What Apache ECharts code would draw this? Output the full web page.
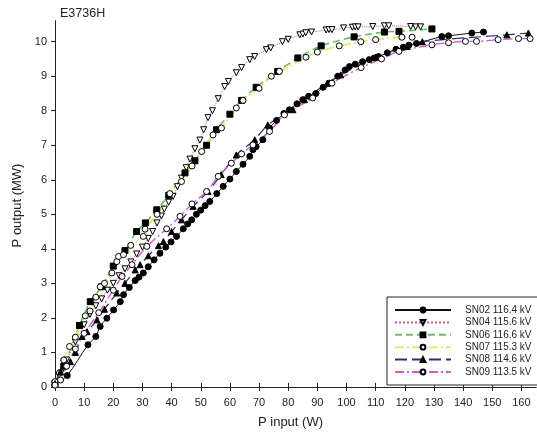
<!DOCTYPE html>
<html>
<head>
<meta charset="utf-8">
<script src="https://cdn.jsdelivr.net/npm/echarts@6/dist/echarts.min.js"></script>
<style>
html,body{margin:0;padding:0;background:#fff;}
#chart{width:537px;height:435px;}
</style>
</head>
<body>
<div id="chart"></div>
<script>
// ---- data (P input W, P output MW) ----
const seriesNames = ["SN02 116.4 kV","SN04 115.6 kV","SN06 116.6 kV","SN07 115.3 kV","SN08 114.6 kV","SN09 113.5 kV"];
const xTicks = [0,10,20,30,40,50,60,70,80,90,100,110,120,130,140,150,160];
const yTicks = [0,1,2,3,4,5,6,7,8,9,10];

const sn02 = [[0,0.06],[4.2,0.33],[11.3,1.22],[14,1.46],[15.5,1.75],[17.8,1.99],[20.1,2.23],[22.4,2.47],[23.5,2.67],[25.5,2.88],[27.5,3.08],[28.8,3.18],[30.3,3.3],[32,3.48],[34,3.68],[36,3.87],[38,4.05],[39.8,4.2],[41.7,4.36],[44,4.58],[45.5,4.72],[46.9,4.84],[48.5,5.0],[50,5.12],[51.5,5.25],[53.1,5.37],[55.5,5.6],[57.7,5.81],[60,6.02],[62.2,6.24],[64.5,6.45],[66.8,6.68],[67.9,6.87],[69,6.96],[71.3,7.16],[73.6,7.5],[76,7.72],[78.5,7.92],[80.4,8.03],[83,8.2],[85,8.32],[87,8.42],[89.5,8.5],[92,8.68],[94.1,8.8],[97,9.0],[99.5,9.18],[101,9.28],[103,9.35],[105.5,9.42],[107.8,9.48],[109.5,9.53],[111,9.57],[114,9.68],[117,9.78],[119.5,9.84],[121.4,9.9],[124,9.95],[132.7,10.15],[135,10.17],[143,10.25],[147,10.28]];

const sn04 = [[0,0.1],[2,0.4],[4,0.78],[7,1.3],[10,1.8],[12,2.1],[14,2.35],[16,2.55],[18,2.8],[20,3.0],[22,3.22],[24,3.42],[26,3.62],[28,3.85],[30,4.05],[32,4.3],[33.5,4.5],[35,4.75],[36.5,4.95],[37.5,5.15],[39,5.35],[40.5,5.52],[42,5.8],[43.4,6.05],[45,6.35],[46.3,6.6],[48,6.9],[49.7,7.15],[51,7.45],[52.5,7.8],[54,8.0],[56,8.35],[58.2,8.7],[59.5,8.85],[62.2,9.1],[64,9.25],[66.8,9.48],[68.5,9.57],[72.5,9.77],[74,9.82],[78,10.0],[80,10.07],[84,10.2],[85,10.22],[86,10.26],[88,10.28],[93,10.34],[94,10.35],[95,10.35],[99,10.4],[102,10.42],[103,10.43],[104,10.43],[109,10.44],[113,10.46],[114.5,10.46],[122,10.44],[123.7,10.43],[125.4,10.43]];

const sn06 = [[0,0.1],[3,0.6],[8.4,1.78],[12.1,2.47],[16,2.9],[20,3.5],[24,3.95],[28,4.5],[31,4.75],[34.9,5.13],[39,5.55],[44.6,6.2],[48,6.55],[52,7.0],[55.4,7.45],[60,7.9],[64,8.3],[69,8.68],[76.4,9.14],[83.3,9.53],[91.3,9.88],[102.6,10.14],[113,10.28],[118,10.3],[129.3,10.37]];

const sn07 = [[0,0.15],[1.5,0.4],[3,0.78],[5,1.17],[7,1.44],[10.4,2.06],[12,2.2],[14,2.6],[15.5,2.9],[17,3.0],[19.5,3.3],[21.2,3.63],[21.8,3.78],[23.5,3.83],[26,4.1],[30.3,4.36],[30.9,4.57],[35,5.0],[39.4,5.6],[43.4,5.95],[47,6.4],[50.3,6.82],[54.2,7.3],[57.1,7.5],[62.2,8.08],[64.5,8.3],[70,8.65],[74.2,9.0],[77,9.14],[86.1,9.55],[90,9.7],[97.5,9.88],[104.9,10.0],[110,10.06],[119,10.13],[122.5,10.13]];

const sn08 = [[0,0.1],[1.9,0.44],[5.3,0.73],[7,1.0],[9.3,1.46],[11,1.6],[14.4,1.94],[17,2.25],[21.2,2.72],[24,3.0],[27.5,3.39],[29.2,3.54],[32,3.8],[35.5,4.09],[37.2,4.21],[40,4.5],[43.4,4.84],[47.4,5.23],[52.5,5.66],[57,6.15],[62.2,6.72],[68.5,7.16],[73,7.59],[81.6,8.03],[85.6,8.32],[93.4,8.8],[98,9.04],[110,9.55],[120.8,9.86],[126,10.0],[155,10.2],[162.4,10.25]];

const sn09 = [[0,0.05],[1.9,0.2],[4,0.6],[7,1.1],[10,1.55],[15,2.15],[20,2.8],[23,3.2],[26.4,3.54],[31.5,4.07],[38.3,4.58],[42.9,4.94],[47,5.3],[52,5.66],[56,6.1],[60.5,6.48],[64,6.75],[67.9,7.01],[73.6,7.4],[78.7,7.88],[88.4,8.37],[95,8.8],[105,9.25],[112,9.5],[118,9.72],[129.3,9.91],[135,9.97],[140.8,10.01],[144.6,10.01],[152,10.06],[159,10.09],[163,10.09]];

// ---- styling ----
const FONT = "Liberation Sans, Arial, sans-serif";
function mk(name, data, color, type, width, symbol, filled, rotate) {
  return {
    name: name, type: 'line', data: data, smooth: 0.3,
    xAxisIndex: 0, yAxisIndex: 0,
    symbol: symbol, symbolSize: 6, symbolRotate: rotate || 0,
    showAllSymbol: true,
    lineStyle: { color: color, width: width, type: type },
    itemStyle: { color: filled ? '#000' : '#fff', borderColor: '#000', borderWidth: 1 },
    emphasis: { disabled: true },
    animation: false
  };
}

const chart = echarts.init(document.getElementById('chart'), null, { renderer: 'canvas' });
chart.setOption({
  backgroundColor: '#fff',
  animation: false,
  title: {
    text: 'E3736H', left: 55, top: 2,
    textStyle: { fontFamily: FONT, fontSize: 12.5, fontWeight: 'normal', color: '#222' }
  },
  grid: { left: 55, right: 1, top: 21, bottom: 45 },
  legend: {
    orient: 'vertical', left: 387, top: 297,
    padding: [8, 40, 8, 7],
    itemWidth: 56, itemHeight: 6, itemGap: 2.4,
    backgroundColor: '#fff', borderColor: '#222', borderWidth: 1,
    textStyle: { fontFamily: FONT, fontSize: 10, lineHeight: 10, color: '#222', padding: [0, 0, 0, 9] },
    data: seriesNames
  },
  xAxis: [{
    type: 'value', min: 0, max: 165, position: 'bottom',
    name: 'P input (W)', nameLocation: 'middle', nameGap: 26,
    nameTextStyle: { fontFamily: FONT, fontSize: 13, color: '#222', padding: [0, 10, 0, 0] },
    axisLine: { lineStyle: { color: '#222', width: 1 } },
    axisTick: { inside: true, length: 4, customValues: xTicks, lineStyle: { color: '#222' } },
    axisLabel: { customValues: xTicks, margin: 7, fontFamily: FONT, fontSize: 11, color: '#222' },
    splitLine: { show: false }
  }, {
    type: 'value', min: 0, max: 165, position: 'top',
    axisLine: { lineStyle: { color: '#222', width: 1 } },
    axisTick: { inside: true, length: 4, customValues: xTicks, lineStyle: { color: '#222' } },
    axisLabel: { show: false },
    splitLine: { show: false }
  }],
  yAxis: [{
    type: 'value', min: -0.09, max: 10.6, position: 'left',
    name: 'P output (MW)', nameLocation: 'middle', nameGap: 24, nameRotate: 90,
    nameTextStyle: { fontFamily: FONT, fontSize: 13, color: '#222' },
    axisLine: { show: true, lineStyle: { color: '#222', width: 1 } },
    axisTick: { show: true, inside: false, length: 4, customValues: yTicks, lineStyle: { color: '#222' } },
    axisLabel: { customValues: yTicks, margin: 8, fontFamily: FONT, fontSize: 11, color: '#222' },
    splitLine: { show: false }
  }, {
    type: 'value', min: -0.09, max: 10.6, position: 'right',
    axisLine: { show: true, lineStyle: { color: '#222', width: 1 } },
    axisTick: { show: true, inside: true, length: 4, customValues: yTicks, lineStyle: { color: '#222' } },
    axisLabel: { show: false },
    splitLine: { show: false }
  }],
  series: [
    mk(seriesNames[0], sn02, '#111111', 'solid', 1, 'circle', true),
    mk(seriesNames[1], sn04, '#c06070', 'dotted', 1, 'triangle', false, 180),
    mk(seriesNames[2], sn06, '#66c060', [7, 4], 1.6, 'rect', true),
    mk(seriesNames[3], sn07, '#e2ea70', [9, 3, 2, 3], 2, 'circle', false),
    mk(seriesNames[4], sn08, '#2c2c78', [12, 5], 1.2, 'triangle', true),
    mk(seriesNames[5], sn09, '#cc60c8', [9, 3, 2, 3], 1.4, 'circle', false)
  ]
});
</script>
</body>
</html>
